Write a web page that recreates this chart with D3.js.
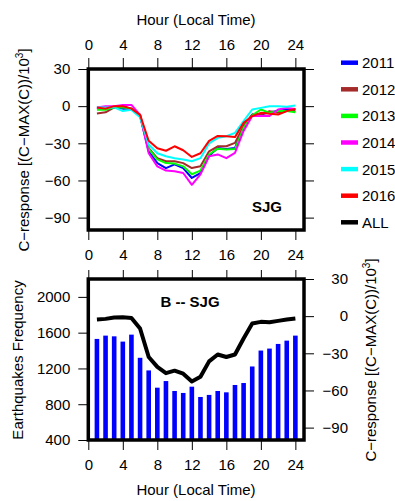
<!DOCTYPE html>
<html><head><meta charset="utf-8">
<script src="https://cdn.jsdelivr.net/npm/d3@7"></script>
<style>body{margin:0;background:#fff}svg{display:block;font-family:"Liberation Sans",Arial,sans-serif}</style>
</head><body><svg id="c" width="395" height="501"></svg>
<script>
const hours = d3.range(1, 25);
const xTicks = [0, 4, 8, 12, 16, 20, 24];
const yTicksC = [30, 0, -30, -60, -90];
const yTicksEq = [400, 800, 1200, 1600, 2000];
const years = ["2011", "2012", "2013", "2014", "2015", "2016", "ALL"];
const colors = ["#0000ff", "#a52a2a", "#00ff00", "#ff00ff", "#00ffff", "#ff0000", "#000000"];
const s2011 = [-2,-1,-1,-2,-2,-8,-36.5,-46,-50,-47,-50,-58,-54,-40,-33.8,-34.6,-33.8,-17.5,-6.8,-6.8,-4.9,-4,-2.7,-2.7];
const s2012 = [-6,-5,-1,0,-2,-7,-34,-42,-44.5,-44.5,-46,-50,-48.6,-36.5,-32.4,-32.4,-29.7,-16,-6.8,-6.8,-4,-5.4,-4,-4];
const s2013 = [-3,-3,-1,-1,-2,-8,-34.5,-43,-46,-46.4,-48.6,-55,-52,-39,-34.3,-35,-34.6,-17.5,-7.5,-2.7,-5.4,-4,-4,-5];
const s2014 = [-1,0,0,1,1,-7,-38,-48.6,-52,-52.6,-54,-63.5,-55,-40.5,-39,-42,-37.8,-20,-8,-8,-8,-2.7,-1.4,-2.2];
const s2015 = [-1,-1,-1,-4,-3,-9,-31,-38,-40.5,-42,-43,-44.5,-42,-30,-25.6,-24.3,-21.6,-12,-2.7,-1.4,0,0,-0.5,0.5];
const s2016 = [-1,-2,0,0,-2,-7,-28,-34,-36,-32.4,-35.6,-41,-38,-28,-24,-24.3,-25,-13.5,-8,-5.4,-6.2,-6.8,-4,-2.2];
const sAll = [-2.7,-2.2,-1.1,-0.8,-1.4,-10,-33,-41,-46,-44,-46.5,-52.7,-49,-36.5,-31,-33,-31,-18,-6,-4.6,-4.9,-3.8,-2.7,-1.9];
const quakes = [1530,1567,1559,1500,1578,1319,1178,985,1059,948,926,996,881,904,948,933,1015,1037,1222,1400,1422,1474,1511,1567];
const series = [s2011, s2012, s2013, s2014, s2015, s2016];

const svg = d3.select("#c");
const L = 88.3, R = 304;
const x = d3.scaleLinear().domain([0, 25]).range([L, R]);
const top1 = 69, bot1 = 230, top2 = 279, bot2 = 440;
const y1 = d3.scaleLinear().domain([-100, 30]).range([bot1, top1]);
const y2 = d3.scaleLinear().domain([-100, 30]).range([bot2, top2]);
const yq = d3.scaleLinear().domain([400, 2200]).range([bot2, top2]);
const fs = "15px";
const minusFmt = d => d < 0 ? "\u2212" + Math.abs(d) : String(d);

function styleAxis(g, labels) {
  g.select(".domain").remove();
  g.selectAll(".tick line").attr("stroke", "#000").attr("stroke-width", 1);
  g.selectAll(".tick text").attr("font-size", fs).attr("fill", "#000");
  if (!labels) g.selectAll(".tick text").remove();
}

// ---------- Panel 1 ----------
let g;
g = svg.append("g").attr("transform", `translate(0,${top1})`)
  .call(d3.axisTop(x).tickValues(xTicks).tickSize(11).tickPadding(8));
styleAxis(g, true);
g = svg.append("g").attr("transform", `translate(0,${bot1})`)
  .call(d3.axisBottom(x).tickValues(xTicks).tickSize(10).tickPadding(9));
styleAxis(g, true);
g = svg.append("g").attr("transform", `translate(${L},0)`)
  .call(d3.axisLeft(y1).tickValues(yTicksC).tickSize(10).tickPadding(8).tickFormat(minusFmt));
styleAxis(g, true);
g = svg.append("g").attr("transform", `translate(${R},0)`)
  .call(d3.axisRight(y1).tickValues(yTicksC).tickSize(10));
styleAxis(g, false);

const line1 = d3.line().x((d, i) => x(hours[i])).y(d => y1(d));
series.forEach((s, k) => {
  svg.append("path").datum(s).attr("d", line1).attr("fill", "none")
    .attr("stroke", colors[k]).attr("stroke-width", 2).attr("stroke-linejoin", "round");
});
svg.append("rect").attr("x", L).attr("y", top1).attr("width", R - L).attr("height", bot1 - top1)
  .attr("fill", "none").attr("stroke", "#000").attr("stroke-width", 3.5);
svg.append("text").attr("x", 267).attr("y", 212).attr("text-anchor", "middle")
  .attr("font-size", "15px").attr("font-weight", "bold").text("SJG");

svg.append("text").attr("x", 196).attr("y", 25).attr("text-anchor", "middle").attr("font-size", fs)
  .text("Hour (Local Time)");
const ylab1 = svg.append("text").attr("transform", `translate(29,150) rotate(-90)`)
  .attr("text-anchor", "middle").attr("font-size", fs);
ylab1.append("tspan").text("C\u2212response [(C\u2212MAX(C))/10");
ylab1.append("tspan").attr("font-size", "10px").attr("dy", "-6").text("3");
ylab1.append("tspan").attr("dy", "6").text("]");

// legend
const leg = svg.append("g");
years.forEach((yr, i) => {
  const yy = 62.7 + i * 26.6;
  leg.append("line").attr("x1", 341).attr("x2", 358).attr("y1", yy).attr("y2", yy)
    .attr("stroke", colors[i]).attr("stroke-width", 4.5);
  leg.append("text").attr("x", 362).attr("y", yy + 5.5).attr("font-size", fs).text(yr);
});

// ---------- Panel 2 ----------
g = svg.append("g").attr("transform", `translate(0,${top2})`)
  .call(d3.axisTop(x).tickValues(xTicks).tickSize(9));
styleAxis(g, false);
g = svg.append("g").attr("transform", `translate(0,${bot2})`)
  .call(d3.axisBottom(x).tickValues(xTicks).tickSize(10).tickPadding(9));
styleAxis(g, true);
g = svg.append("g").attr("transform", `translate(${L},0)`)
  .call(d3.axisLeft(yq).tickValues(yTicksEq).tickSize(10).tickPadding(8).tickFormat(d3.format("d")));
styleAxis(g, true);
g = svg.append("g").attr("transform", `translate(${R},0)`)
  .call(d3.axisRight(y2).tickValues(yTicksC).tickSize(10).tickFormat(minusFmt));
styleAxis(g, true);
g.selectAll(".tick text").attr("text-anchor", "end").attr("x", 44);

const bw = 4.6;
svg.append("g").selectAll("rect").data(quakes).join("rect")
  .attr("x", (d, i) => x(hours[i]) - bw / 2).attr("width", bw)
  .attr("y", d => yq(d)).attr("height", d => yq(400) - yq(d))
  .attr("fill", "#0000ff");
const line2 = d3.line().x((d, i) => x(hours[i])).y(d => y2(d));
svg.append("path").datum(sAll).attr("d", line2).attr("fill", "none")
  .attr("stroke", "#000").attr("stroke-width", 4).attr("stroke-linejoin", "round");
svg.append("rect").attr("x", L).attr("y", top2).attr("width", R - L).attr("height", bot2 - top2)
  .attr("fill", "none").attr("stroke", "#000").attr("stroke-width", 3.5);
svg.append("text").attr("x", 190).attr("y", 307).attr("text-anchor", "middle")
  .attr("font-size", "15px").attr("font-weight", "bold").text("B -- SJG");

svg.append("text").attr("x", 196).attr("y", 495).attr("text-anchor", "middle").attr("font-size", fs)
  .text("Hour (Local Time)");
svg.append("text").attr("transform", `translate(23,360) rotate(-90)`)
  .attr("text-anchor", "middle").attr("font-size", fs).text("Earthquakes Frequency");
const ylab2 = svg.append("text").attr("transform", `translate(376,360) rotate(-90)`)
  .attr("text-anchor", "middle").attr("font-size", fs);
ylab2.append("tspan").text("C\u2212response [(C\u2212MAX(C))/10");
ylab2.append("tspan").attr("font-size", "10px").attr("dy", "-6").text("3");
ylab2.append("tspan").attr("dy", "6").text("]");
</script></body></html>
